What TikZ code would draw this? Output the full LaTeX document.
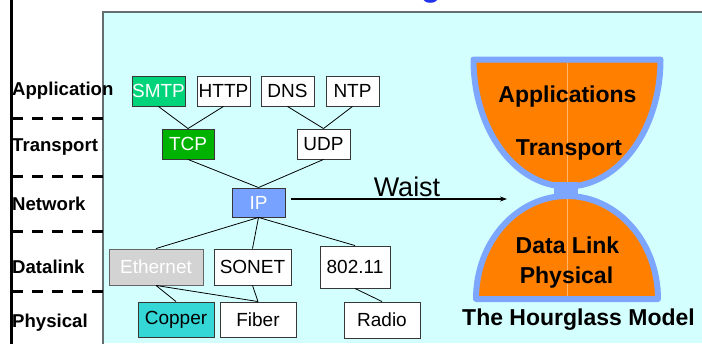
\documentclass[tikz,border=0pt]{standalone}
\usepackage{fontspec}
\setmainfont{Liberation Sans}
\usetikzlibrary{arrows.meta}
\definecolor{panelc}{RGB}{212,255,255}
\definecolor{panelline}{RGB}{100,110,110}
\definecolor{boxline}{RGB}{55,55,55}
\definecolor{smtpc}{RGB}{0,212,122}
\definecolor{tcpc}{RGB}{0,178,0}
\definecolor{ipc}{RGB}{120,162,255}
\definecolor{ethc}{RGB}{211,211,211}
\definecolor{copperc}{RGB}{52,214,214}
\definecolor{hgorange}{RGB}{255,128,0}
\definecolor{hgblue}{RGB}{125,166,255}
\definecolor{hgline}{RGB}{255,180,110}
\definecolor{titleblue}{RGB}{35,50,235}
\begin{document}
\begin{tikzpicture}[x=1pt,y=-1pt,
  protobox/.style={draw=boxline, line width=0.9pt, inner sep=0pt, fill=white, text=black,
    font=\fontsize{19}{22}\selectfont, minimum width=53pt, minimum height=30pt},
  layerlabel/.style={anchor=base west, inner sep=0pt, font=\bfseries\fontsize{18.6}{22}\selectfont},
  hgtext/.style={anchor=base, inner sep=0pt, font=\bfseries\fontsize{23}{26}\selectfont},
  dashline/.style={line width=3pt, dash pattern=on 11pt off 9pt},
  wire/.style={line width=0.8pt, black},
  hgpart/.style={fill=hgorange, draw=hgblue, line width=6pt, line join=round}
]
\useasboundingbox (0,0) rectangle (702,343);
\clip (0,0) rectangle (702,343);

% cut-off title glyph
\node[anchor=south, inner sep=0pt, text=titleblue, font=\bfseries\fontsize{32}{36}\selectfont] (titleg) at (431,3.5) {g};

% panel
\fill[panelc] (103,12) rectangle (702,343);
\draw[panelline, line width=1.3pt] (703,12) -- (103,12) -- (103,344);

% left rule and layer separators
\draw[line width=3pt] (11,-2) -- (11,345);
\foreach \yy in {118,176,231,291} { \draw[dashline] (12,\yy) -- (103,\yy); }

% layer labels
\node[layerlabel] (lapp) at (12,95) {Application};
\node[layerlabel] (ltra) at (12,151) {Transport};
\node[layerlabel] (lnet) at (12,210) {Network};
\node[layerlabel] (ldat) at (12,273) {Datalink};
\node[layerlabel] (lphy) at (12,327) {Physical};

% protocol boxes
\node[protobox, fill=smtpc, text=white] (smtp) at (158.5,91) {SMTP};
\node[protobox] (http) at (223.5,91) {HTTP};
\node[protobox] (dns) at (287.5,91) {DNS};
\node[protobox] (ntp) at (352.5,91) {NTP};
\node[protobox, fill=tcpc, text=white, minimum width=52pt] (tcp) at (188,144) {TCP};
\node[protobox] (udp) at (323.5,144) {UDP};
\node[protobox, fill=ipc, text=white, minimum height=29pt] (ip) at (258.5,202.5) {IP};
\node[protobox, fill=ethc, text=white, draw=gray!80!black, minimum width=94pt, minimum height=36pt] (eth) at (156,267) {Ethernet};
\node[protobox, minimum width=77pt, minimum height=36pt] (sonet) at (252.5,267) {SONET};
\node[protobox, minimum width=70pt, minimum height=42pt] (wifi) at (355,267) {802.11};
\node[protobox, fill=copperc, minimum width=76pt, minimum height=35pt] (copper) at (176,319.5) {Copper};
\node[protobox, minimum width=76pt, minimum height=35pt] (fiber) at (258,319.5) {Fiber};
\node[protobox, minimum width=76pt, minimum height=36pt] (radio) at (382,320) {Radio};

% connectors
\draw[wire] (smtp.south) -- (tcp.north);
\draw[wire] (http.south) -- (tcp.north);
\draw[wire] (dns.south) -- (udp.north);
\draw[wire] (ntp.south) -- (udp.north);
\draw[wire] (tcp.south) -- (ip.north);
\draw[wire] (udp.south) -- (ip.north);
\draw[wire] (ip.south) -- (eth.north);
\draw[wire] (ip.south) -- (sonet.north);
\draw[wire] (ip.south) -- (wifi.north);
\draw[wire] (eth.south) -- (copper.north);
\draw[wire] (eth.south) -- (fiber.north);
\draw[wire] (sonet.south) -- (fiber.north);
\draw[wire] (wifi.south) -- (radio.north);

% waist arrow
\coordinate (waisttip) at (507,199);
\path (ip.east |- waisttip) coordinate (arrowstart);
\draw[line width=1.5pt, -{Stealth[length=7pt,width=5pt]}] ([xshift=6pt]arrowstart) -- (waisttip);
\node[anchor=base, inner sep=0pt, font=\fontsize{27}{30}\selectfont] (waist) at (407,196) {Waist};

% hourglass
\path[hgpart] (473.5,59.5) arc[start angle=180, end angle=0, x radius=93.5, y radius=127] -- cycle;
\path[hgpart] (476,299) arc[start angle=180, end angle=360, x radius=91, y radius=103] -- cycle;
\draw[hgline, line width=0.6pt] (567,62.5) -- (567,183);
\draw[hgline, line width=0.6pt] (567,199) -- (567,296);
\fill[hgblue] (554,182) rectangle (578,197);

\node[hgtext] (happ) at (567.5,102) {Applications};
\node[hgtext] (htra) at (569,155) {Transport};
\node[hgtext] (hdat) at (567.5,253) {Data Link};
\node[hgtext] (hphy) at (566.5,283) {Physical};
\node[hgtext] (hmodel) at (578.5,325) {The Hourglass Model};
\end{tikzpicture}
\end{document}
